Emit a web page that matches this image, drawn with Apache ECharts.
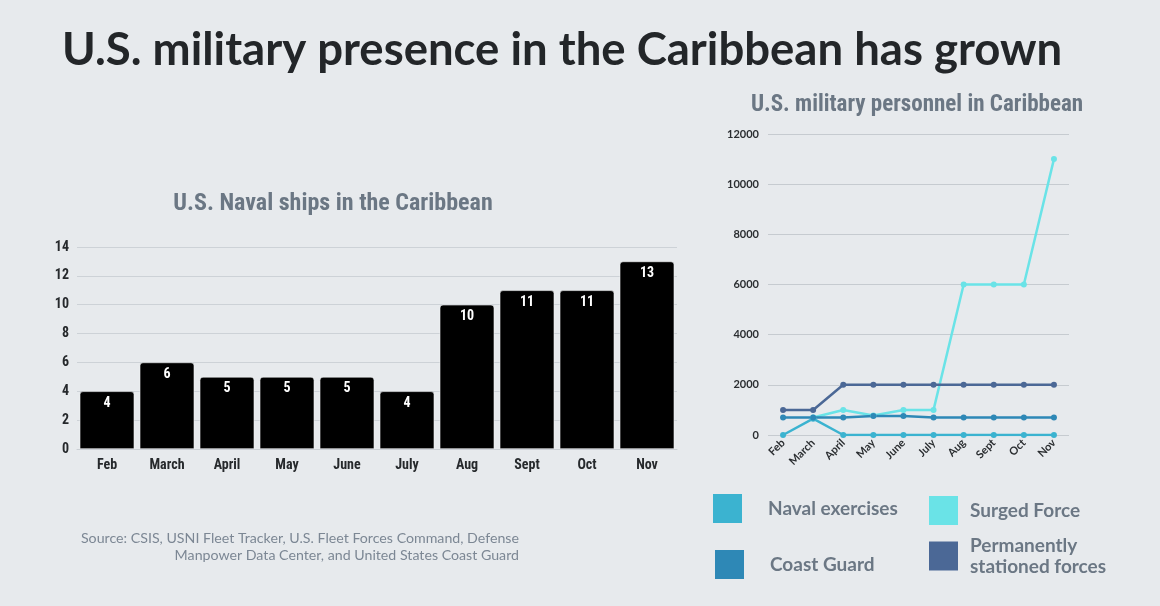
<!DOCTYPE html>
<html>
<head>
<meta charset="utf-8">
<script src="https://cdn.jsdelivr.net/npm/echarts@6/dist/echarts.min.js"></script>
<style>
html,body{margin:0;padding:0;background:#e7eaed;}
#c{width:1160px;height:606px;}
</style>
</head>
<body>
<div id="c"></div>
<script>
const mainTitle = "U.S. military presence in the Caribbean has grown";
const barTitle = "U.S. Naval ships in the Caribbean";
const lineTitle = "U.S. military personnel in Caribbean";
const sourceText = "Source: CSIS, USNI Fleet Tracker, U.S. Fleet Forces Command, Defense\nManpower Data Center, and United States Coast Guard";

const months = ["Feb","March","April","May","June","July","Aug","Sept","Oct","Nov"];
const navalShips = [4,6,5,5,5,4,10,11,11,13];

const seriesNames = ["Naval exercises","Coast Guard","Surged Force","Permanently stationed forces"];
const navalExercises = [0,650,0,0,0,0,0,0,0,0];
const coastGuard = [700,700,700,760,760,700,700,700,700,700];
const surgedForce = [null,700,1000,780,1000,1000,6000,6000,6000,11000];
const permanentForces = [1000,1000,2000,2000,2000,2000,2000,2000,2000,2000];

const colors = {
  "Naval exercises":"#3bb3d0",
  "Coast Guard":"#2e88b6",
  "Surged Force":"#6ae3e7",
  "Permanently stationed forces":"#4b6896"
};
const seriesData = {
  "Naval exercises": navalExercises,
  "Coast Guard": coastGuard,
  "Surged Force": surgedForce,
  "Permanently stationed forces": permanentForces
};

const condensed = "'Liberation Sans Narrow','Roboto Condensed',Roboto,sans-serif";
const sans = "Lato,'Open Sans',sans-serif";
const grey = "#6b7784";

const chart = echarts.init(document.getElementById('c'));

function legendAt(name, left, top, gap){
  return {
    data:[name], left:left, top:top, orient:'vertical', padding:0,
    icon:'rect', itemWidth:29, itemHeight:29,
    textStyle:{color:grey, fontSize:19, fontWeight:'bold', fontFamily:sans, padding:[0,0,0,gap], lineHeight:21},
    formatter: n => n === "Permanently stationed forces" ? "Permanently\nstationed forces" : n,
    selectedMode:false
  };
}

const option = {
  backgroundColor:'#e7eaed',
  animation:false,
  title:[
    {text:mainTitle, left:57, top:22, textStyle:{color:'#232629', fontSize:45.5, fontWeight:'bold', fontFamily:sans}},
    {text:barTitle, left:328, top:187, textAlign:'center', textStyle:{color:grey, fontSize:24, fontWeight:'bold', fontFamily:condensed}},
    {text:lineTitle, left:912, top:89, textAlign:'center', textStyle:{color:grey, fontSize:23, fontWeight:'bold', fontFamily:condensed}},
    {text:sourceText, left:514, top:525, textAlign:'right', textStyle:{color:'#7c8794', fontSize:14.2, fontWeight:'normal', lineHeight:17, fontFamily:sans, align:'right'}}
  ],
  legend:[
    legendAt("Naval exercises",713,494,21),
    legendAt("Surged Force",929,496,7),
    legendAt("Coast Guard",715,550,21),
    legendAt("Permanently stationed forces",929,535,7)
  ],
  grid:[
    {left:77, right:483, top:247, bottom:157},
    {left:768, right:91, top:134, bottom:171}
  ],
  xAxis:[
    {type:'category', gridIndex:0, data:months,
     axisLine:{lineStyle:{color:'#c9ced3'}}, axisTick:{show:false},
     axisLabel:{color:'#26292c', fontSize:14, fontWeight:'bold', fontFamily:condensed, margin:9}},
    {type:'category', gridIndex:1, data:months,
     axisLine:{show:false}, axisTick:{show:false},
     axisLabel:{color:'#2b2e31', fontSize:11, fontWeight:'bold', fontFamily:sans, rotate:45, margin:6}}
  ],
  yAxis:[
    {type:'value', gridIndex:0, min:0, max:14, interval:2,
     axisLine:{show:false}, axisTick:{show:false},
     splitLine:{lineStyle:{color:'#cdd2d7', width:1}},
     axisLabel:{color:'#26292c', fontSize:14, fontWeight:'bold', fontFamily:condensed, margin:8}},
    {type:'value', gridIndex:1, min:0, max:12000, interval:2000,
     axisLine:{show:false}, axisTick:{show:false},
     splitLine:{lineStyle:{color:'#c6cbd0', width:1}},
     axisLabel:{color:'#2b2e31', fontSize:11, fontWeight:'bold', fontFamily:sans, margin:9, formatter: v => String(v)}}
  ],
  series:[
    {type:'bar', name:'Naval ships', xAxisIndex:0, yAxisIndex:0, data:navalShips,
     barCategoryGap:'9%',
     itemStyle:{color:'#000000', borderRadius:[3,3,0,0], borderColor:'#f4f5f6', borderWidth:0.6},
     label:{show:true, position:'insideTop', distance:5, color:'#ffffff', fontSize:14, fontWeight:'bold', fontFamily:condensed}},
    ...["Surged Force","Naval exercises","Coast Guard","Permanently stationed forces"].map(n => ({
      type:'line', name:n, xAxisIndex:1, yAxisIndex:1, data:seriesData[n],
      symbol:'circle', symbolSize:6, connectNulls:false,
      lineStyle:{color:colors[n], width:2.5},
      itemStyle:{color:colors[n]}
    }))
  ]
};
chart.setOption(option);
</script>
</body>
</html>
